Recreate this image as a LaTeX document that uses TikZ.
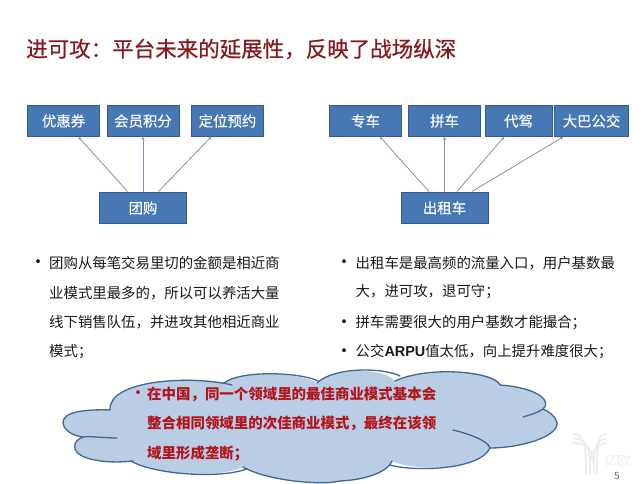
\documentclass[tikz,border=0pt]{standalone}
\usepackage{fontspec}
\setmainfont{Noto Sans CJK SC}
\newfontfamily\titlef{Noto Sans CJK SC}[FakeBold=0.6]
\newfontfamily\boxf{Noto Sans CJK SC}[FakeBold=0.25]
\newfontfamily\latinb{Liberation Sans Bold}
\newcommand\qcomma{\char"FF0C\relax}
\newcommand\qsemi{\char"FF1B\relax}
\newcommand\qcolon{\char"FF1A\relax}
\definecolor{boxfill}{HTML}{4678B5}
\definecolor{boxline}{HTML}{375C88}
\definecolor{titlered}{HTML}{861A1E}
\definecolor{cloudfill}{HTML}{B9CDE5}
\definecolor{cloudline}{HTML}{3F6797}
\definecolor{cloudtext}{HTML}{B4141C}
\definecolor{arrowc}{HTML}{7F93AD}
\usetikzlibrary{arrows.meta}
\tikzset{
  x=1pt,y=-1pt,
  bx/.style={draw=boxline,fill=boxfill,line width=1pt,text=white,font=\boxf\fontsize{14.4}{16}\selectfont,inner sep=0pt,anchor=north west},
  link/.style={draw=arrowc,line width=.8pt,-{Stealth[length=3pt,width=3pt]}},
  body/.style={anchor=west,inner sep=0pt,text=black!90,font=\fontsize{14.4}{16}\selectfont},
  cloudt/.style={anchor=west,inner sep=0pt,text=cloudtext,font=\fontsize{14.45}{16}\selectfont\bfseries},
  dot/.style={anchor=center,inner sep=0pt,text=black!90,font=\fontsize{18}{18}\selectfont},
  cl/.style={draw=cloudline,line width=1.3pt,line cap=round}
}
\begin{document}
\begin{tikzpicture}
\useasboundingbox (0,0) rectangle (643,484);
\fill[white] (0,0) rectangle (643,484);
% title
\node[anchor=west,inner sep=0pt,text=titlered,font=\titlef\fontsize{21.5}{24}\selectfont] (title) at (26,49) {进可攻\qcolon 平台未来的延展性\qcomma 反映了战场纵深};
% left boxes
\node[bx,minimum width=72pt,minimum height=31pt] (a1) at (27,105) {优惠券};
\node[bx,minimum width=72pt,minimum height=31pt] (a2) at (106.5,105) {会员积分};
\node[bx,minimum width=72pt,minimum height=31pt] (a3) at (191,105) {定位预约};
\node[bx,minimum width=87pt,minimum height=31pt] (a0) at (99,192) {团购};
\draw[link] (127.5,191.5) -- (78.5,137);
\draw[link] (a0.north) -- (a0.north |- a2.south);
\draw[link] (158.5,191.5) -- (211,137);
% right boxes
\node[bx,minimum width=72pt,minimum height=31pt] (b1) at (329,105) {专车};
\node[bx,minimum width=72pt,minimum height=31pt] (b2) at (408,105) {拼车};
\node[bx,minimum width=67pt,minimum height=31pt] (b3) at (484.5,105) {代驾};
\node[bx,minimum width=74pt,minimum height=31pt] (b4) at (554,105) {大巴公交};
\node[bx,minimum width=87pt,minimum height=31pt] (b0) at (400.5,192) {出租车};
\draw[link] (429,191.5) -- (380,137);
\draw[link] (b0.north) -- (b0.north |- b2.south);
\draw[link] (457,191.5) -- (504,137);
\draw[link] (472,191.5) -- (563,137);
% left text
\node[dot] (lb) at (38,264.5) {•};
\node[body] (l1) at (49,263) {团购从每笔交易里切的金额是相近商};
\node[body] (l2) at (49,293) {业模式里最多的\qcomma 所以可以养活大量};
\node[body] (l3) at (49,322) {线下销售队伍\qcomma 并进攻其他相近商业};
\node[body] (l4) at (49,352) {模式\qsemi};
% right text
\node[dot] (rb1) at (344,264.5) {•};
\node[dot] (rb2) at (344,324.5) {•};
\node[dot] (rb3) at (344,353.5) {•};
\node[body] (r1) at (355.5,263) {出租车是最高频的流量入口\qcomma 用户基数最};
\node[body] (r2) at (355.5,292) {大\qcomma 进可攻\qcomma 退可守\qsemi};
\node[body] (r3) at (355.5,323) {拼车需要很大的用户基数才能撮合\qsemi};
\node[body] (r4) at (355.5,352) {公交{\latinb ARPU}值太低\qcomma 向上提升难度很大\qsemi};
% cloud
\path[fill=cloudfill]
 (110,410) .. controls (85,409) and (62,412) .. (63,423)
 .. controls (64,431) and (74,436) .. (83,437)
 .. controls (72,441) and (72,451) .. (82,456)
 .. controls (95,462) and (115,463) .. (131,461)
 .. controls (150,473) and (215,480) .. (243,467)
 .. controls (265,480) and (320,486) .. (340,481)
 .. controls (365,480) and (388,472) .. (392,461)
 .. controls (415,472) and (480,470) .. (490,448)
 .. controls (520,448) and (558,437) .. (557,423)
 .. controls (556,416) and (548,411) .. (543,409)
 .. controls (552,402) and (540,388) .. (500,385)
 .. controls (495,372) and (430,365) .. (395,381)
 .. controls (385,368) and (335,366) .. (317,383)
 .. controls (300,372) and (240,370) .. (224,383)
 .. controls (190,375) and (108,380) .. (110,410) -- cycle;
\draw[cl]
 (117,438) .. controls (105,438) and (92,436) .. (83,437)
 .. controls (72,441) and (72,451) .. (82,456)
 .. controls (95,462) and (115,463) .. (133,461);
\draw[cl]
 (110,410) .. controls (85,409) and (62,412) .. (63,423)
 .. controls (64,431) and (74,436) .. (83,437);
\draw[cl]
 (131,461) .. controls (150,473) and (215,480) .. (247,469);
\draw[cl]
 (243,467) .. controls (265,480) and (320,486) .. (340,481)
 .. controls (365,480) and (388,472) .. (392,461);
\draw[cl]
 (390,465) .. controls (415,472) and (480,470) .. (490,448)
 .. controls (488,441) and (470,434) .. (453,430);
\draw[cl]
 (490,448) .. controls (520,448) and (558,437) .. (557,423)
 .. controls (556,416) and (548,411) .. (543,409);
\draw[cl]
 (523,417) .. controls (530,415) and (537,413) .. (543,409)
 .. controls (552,402) and (540,388) .. (500,385)
 .. controls (495,372) and (430,365) .. (395,381);
\draw[cl]
 (400,376) .. controls (385,368) and (335,366) .. (317,383);
\draw[cl]
 (318,381) .. controls (300,372) and (240,370) .. (224,383);
\draw[cl]
 (232,385) .. controls (190,375) and (108,380) .. (110,410);
% cloud text
\node[dot,text=cloudtext] (cb) at (138,395.5) {•};
\node[cloudt] (c1) at (147,394) {在中国\qcomma 同一个领域里的最佳商业模式基本会};
\node[cloudt] (c2) at (147,423) {整合相同领域里的次佳商业模式\qcomma 最终在该领};
\node[cloudt] (c3) at (147,454) {域里形成垄断\qsemi};
% watermark
\begin{scope}[black!7,line width=1.8pt]
\draw (573,434) .. controls (584,434) and (586,444) .. (586,474);
\draw (573,438.5) .. controls (587,439) and (590,446) .. (590,474);
\draw (573,443) .. controls (590,444) and (594,450) .. (594,474);
\draw (606,434) .. controls (598,434) and (597,444) .. (597,474);
\draw (606,438.5) .. controls (599,439) and (594,446) .. (594,462);
\draw (606,443) .. controls (600,444) and (591,450) .. (590,462);
\end{scope}
\node[anchor=center,inner sep=0pt,text=black!7,font=\fontsize{13}{14}\selectfont] (wm) at (617,461) {亿欧};
\node[anchor=center,inner sep=0pt,text=black!60,font=\fontsize{10}{11}\selectfont] (pg) at (617,476) {5};
\end{tikzpicture}
\end{document}
